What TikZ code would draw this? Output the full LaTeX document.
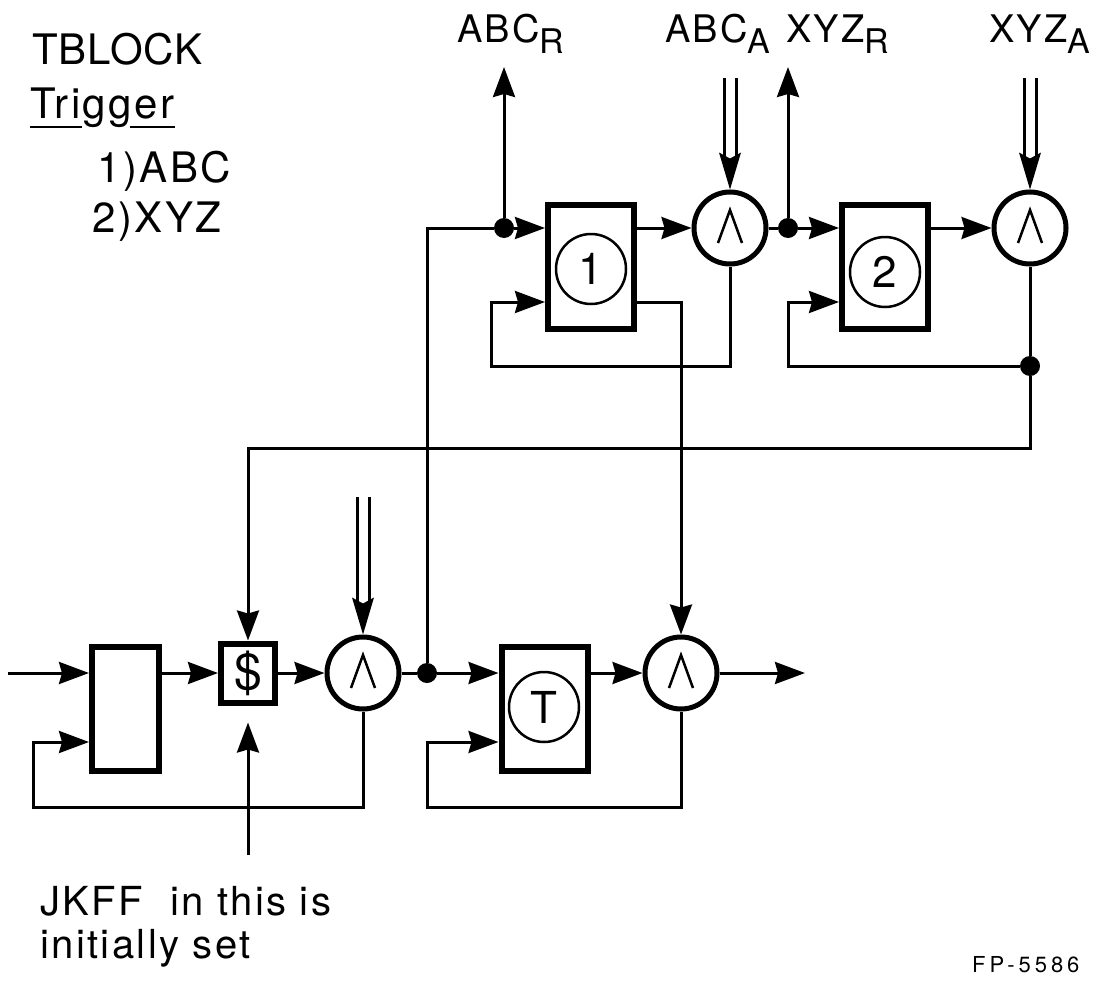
\documentclass[tikz,border=0pt]{standalone}
\usepackage{fontspec}
\setmainfont{TeX Gyre Heros}
\newfontfamily\lfont[LetterSpace=6]{TeX Gyre Heros}
\newfontfamily\tfont[LetterSpace=2]{TeX Gyre Heros}
\newfontfamily\fpfont[LetterSpace=18]{TeX Gyre Heros}
\usetikzlibrary{arrows.meta,calc}
\newcommand\dblarr[2]{%
  \draw[conn] ([xshift=-6pt]#1) -- ([xshift=-6pt,yshift=30pt]#2);
  \draw[conn] ([xshift=6pt]#1) -- ([xshift=6pt,yshift=30pt]#2);
  \fill ([xshift=-11pt,yshift=37pt]#2) -- (#2) -- ([xshift=11pt,yshift=37pt]#2) -- ([yshift=31pt]#2) -- cycle;
}
\begin{document}
\begin{tikzpicture}[x=1pt,y=-1pt,
  conn/.style={line width=3pt},
  arr/.style={conn,-{Stealth[length=30pt,width=22pt,inset=3pt]}},
  blk/.style={draw,line width=6pt,minimum width=86pt,minimum height=124pt,inner sep=0pt},
  andg/.style={draw,circle,line width=5pt,minimum size=72pt,inner sep=0pt},
  innerc/.style={draw,circle,line width=2.5pt,minimum size=70pt,inner sep=0pt,font=\fontsize{44}{44}\selectfont},
  jn/.style={circle,fill,inner sep=0pt,minimum size=20pt},
  lbl/.style={anchor=base west,inner sep=0pt,font=\lfont\fontsize{42}{42}\selectfont},
  toplbl/.style={anchor=base west,inner sep=0pt,font=\lfont\fontsize{38}{38}\selectfont},
  notelbl/.style={anchor=base west,inner sep=0pt,font=\lfont\fontsize{40}{40}\selectfont}
]
\useasboundingbox (0,0) rectangle (1105,982);

% texts
\node[lbl,font=\tfont\fontsize{42}{42}\selectfont] (tb) at (32,65) {TBLOCK};
\node[lbl] (trig) at (30,118) {Trigger};
\draw[line width=2pt] ($(trig.base west)+(0,9)$) -- ($(trig.base west)+(52,9)$);
\draw[line width=2pt] ($(trig.base west)+(100,9)$) -- ($(trig.base west)+(145,9)$);
\node[lbl] (t1) at (97,182) {1)ABC};
\node[lbl] (t2) at (92,232) {2)XYZ};
\node[toplbl] (abcr) at (457,43) {ABC\raisebox{-10pt}{\fontsize{34}{34}\selectfont R}};
\node[toplbl] (abca) at (665,43) {ABC\raisebox{-10pt}{\fontsize{34}{34}\selectfont A}};
\node[toplbl] (xyzr) at (786,43) {XYZ\raisebox{-10pt}{\fontsize{34}{34}\selectfont R}};
\node[toplbl] (xyza) at (989,43) {XYZ\raisebox{-10pt}{\fontsize{34}{34}\selectfont A}};
\node[notelbl] (n1) at (40,915) {JKFF\ \ in this is};
\node[notelbl] (n2) at (40,958) {initially set};
\node[anchor=base west,inner sep=0pt,font=\fpfont\fontsize{22}{22}\selectfont] (fp) at (972,972) {FP-5586};

% blocks
\node[blk] (box1) at (591,267) {};
\node[blk] (box2) at (885,267) {};
\node[blk] (boxT) at (544.5,708.5) {};
\node[blk,minimum width=67pt] (box0) at (125.5,708.5) {};
\node[blk,minimum width=54pt,minimum height=59pt,font=\fontsize{50}{50}\selectfont] (dbox) at (248,673) {\$};
\node[innerc] (c1) at (591,269) {1};
\node[innerc] (c2) at (885,272) {2};
\node[innerc] (cT) at (544,707) {T};

% and gates
\node[andg] (and1) at (730,228) {};
\node[andg] (and2) at (1030,228) {};
\node[andg] (and0) at (363,673) {};
\node[andg] (andT) at (681,673) {};
\foreach \g in {and0,and1,and2,andT}
  \draw[line width=2.5pt] ($(\g)+(-12,15)$) -- ($(\g)+(0,-18)$) -- ($(\g)+(12,15)$);

% junctions
\node[jn] (d1) at (504,228) {};
\node[jn] (d2) at (788,228) {};
\node[jn] (d3) at (1030,366) {};
\node[jn] (d4) at (427,673) {};

% helper coordinates
\coordinate (r302) at (0,302);
\coordinate (r742) at (0,742);
\coordinate (tipR1) at (504,67);
\coordinate (tipR2) at (788,67);
\coordinate (dA1) at (730,78);
\coordinate (dA2) at (1030,78);
\coordinate (dA0) at (363,497);
\coordinate (l1) at (491,366);
\coordinate (l2) at (788,366);
\coordinate (l3) at (248,448);
\coordinate (l0) at (33,807);
\coordinate (lT) at (427,807);
\coordinate (in0) at (8,673);
\coordinate (out) at (805,673);
\coordinate (note) at (248,855);

% top row
\draw[conn] (d4) |- (d1);
\draw[arr] (d1) -- (tipR1);
\draw[arr] (d1) -- (box1.west |- d1);
\draw[arr] (box1.east |- and1) -- (and1.west);
\draw[conn] (and1.east) -- (d2);
\draw[arr] (d2) -- (tipR2);
\draw[arr] (d2) -- (box2.west |- d2);
\draw[arr] (box2.east |- and2) -- (and2.west);
\draw[arr] (and1.south) |- (l1) |- (box1.west |- r302);
\draw[arr] (box1.east |- r302) -| (andT.north);
\draw[conn] (and2.south) -- (d3);
\draw[arr] (d3) -- (l2) |- (box2.west |- r302);
\draw[arr] (d3) |- (l3) -- (dbox.north);
\dblarr{dA1}{and1.north}
\dblarr{dA2}{and2.north}
\dblarr{dA0}{and0.north}

% bottom row
\draw[arr] (in0) -- (box0.west |- in0);
\draw[arr] (box0.east |- in0) -- (dbox.west |- in0);
\draw[arr] (dbox.east) -- (and0.west);
\draw[conn] (and0.east) -- (d4);
\draw[arr] (d4) -- (boxT.west |- d4);
\draw[arr] (boxT.east |- andT) -- (andT.west);
\draw[arr] (andT.east) -- (out);
\draw[arr] (and0.south) |- (l0) |- (box0.west |- r742);
\draw[arr] (andT.south) |- (lT) |- (boxT.west |- r742);
\draw[arr,shorten >=17pt] (note) -- (dbox.south);
\end{tikzpicture}
\end{document}
